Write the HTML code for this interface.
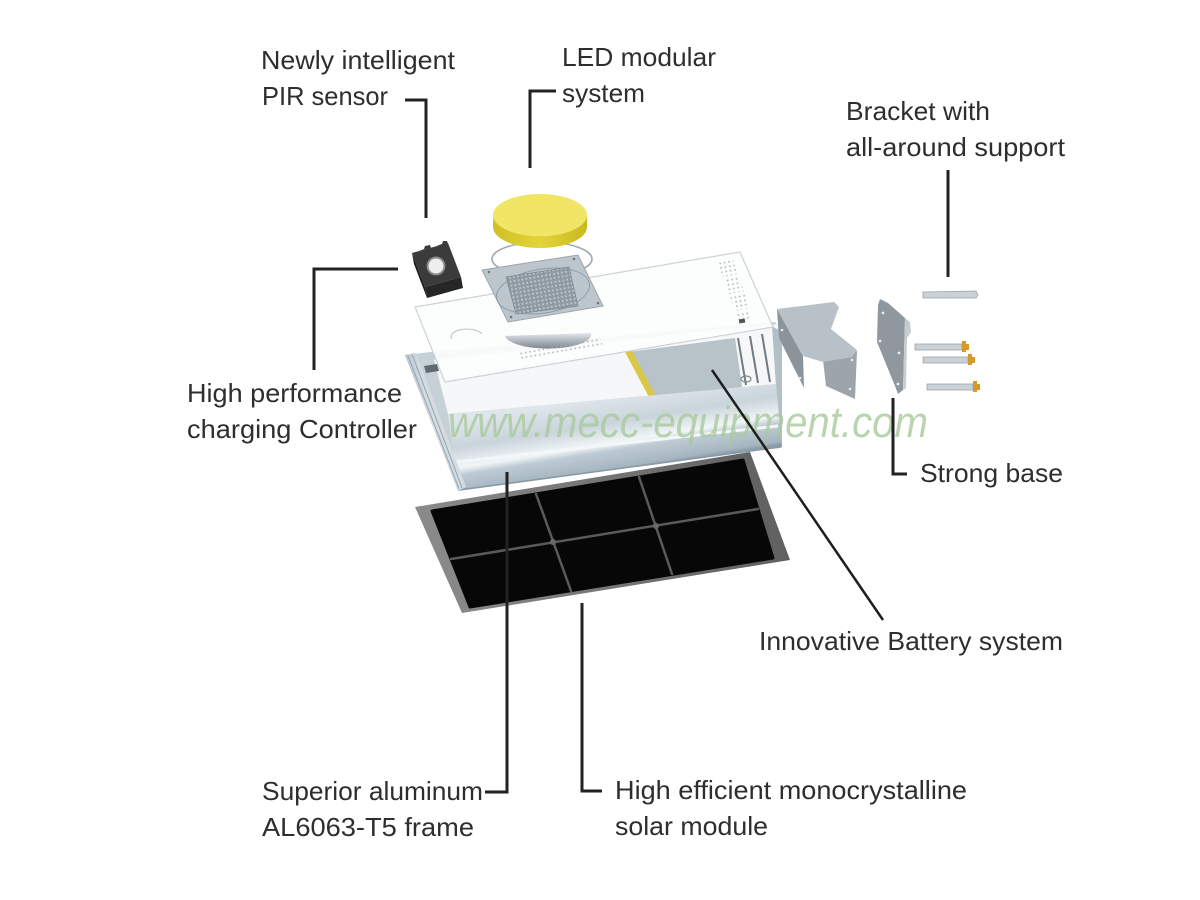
<!DOCTYPE html>
<html>
<head>
<meta charset="utf-8">
<style>
  html,body{margin:0;padding:0;background:#fff;}
  svg{display:block;}
  .lbl{font-family:"Liberation Sans",Arial,sans-serif;font-size:26px;fill:#2e2e2e;}
</style>
</head>
<body>
<svg width="1200" height="900" viewBox="0 0 1200 900" xmlns="http://www.w3.org/2000/svg">
  <defs>
    <linearGradient id="front" gradientUnits="userSpaceOnUse" x1="600" y1="398" x2="612" y2="472">
      <stop offset="0" stop-color="#dfe6eb"/>
      <stop offset="0.35" stop-color="#c9d4db"/>
      <stop offset="0.62" stop-color="#f1f5f7"/>
      <stop offset="0.72" stop-color="#bccad3"/>
      <stop offset="0.95" stop-color="#a6b6c1"/>
      <stop offset="1" stop-color="#8d9da8"/>
    </linearGradient>
    <linearGradient id="leftend" gradientUnits="userSpaceOnUse" x1="405" y1="420" x2="430" y2="415">
      <stop offset="0" stop-color="#8797a2"/>
      <stop offset="0.5" stop-color="#b9c5cd"/>
      <stop offset="1" stop-color="#d4dce2"/>
    </linearGradient>
    <linearGradient id="bowl" x1="0" y1="0" x2="0" y2="1">
      <stop offset="0" stop-color="#e3e7ea"/>
      <stop offset="1" stop-color="#7c8790"/>
    </linearGradient>
    <linearGradient id="frame" gradientUnits="userSpaceOnUse" x1="415" y1="560" x2="790" y2="500">
      <stop offset="0" stop-color="#8c8c8c"/>
      <stop offset="1" stop-color="#5f5f5f"/>
    </linearGradient>
    <linearGradient id="discside" x1="0" y1="0" x2="1" y2="0">
      <stop offset="0" stop-color="#cfc026"/>
      <stop offset="0.5" stop-color="#e3d43a"/>
      <stop offset="1" stop-color="#c9b91f"/>
    </linearGradient>
    <pattern id="dots" width="4.5" height="4.5" patternUnits="userSpaceOnUse" patternTransform="rotate(-10)">
      <circle cx="2" cy="2" r="0.9" fill="#a9b0b5"/>
    </pattern>
    <pattern id="leds" width="4" height="4" patternUnits="userSpaceOnUse" patternTransform="rotate(-10)">
      <rect width="4" height="4" fill="#8e99a1"/>
      <circle cx="2" cy="2" r="1.1" fill="#b9c3ca"/>
    </pattern>
  </defs>

  <rect width="1200" height="900" fill="#ffffff"/>

  <!-- ===== Solar panel ===== -->
  <polygon points="415,507 750,452 790,560 462,613" fill="url(#frame)"/>
  <polygon points="432,511 743,460 773,558 470,607" fill="#070707" stroke="#070707" stroke-width="3" stroke-linejoin="round"/>
  <g stroke="#5a5a5a" stroke-width="2.5" stroke-linecap="round">
    <line x1="536" y1="494" x2="571" y2="591"/>
    <line x1="639" y1="477" x2="672" y2="574"/>
    <line x1="451" y1="559" x2="758" y2="509"/>
  </g>
  <circle cx="553" cy="542" r="3" fill="#6a6a6a"/>
  <circle cx="656" cy="526" r="3" fill="#6a6a6a"/>

  <!-- ===== Housing ===== -->
  <!-- base body -->
  <polygon points="405,355 432,352 775,322 782,332 782,447 458,491" fill="#c3ced6"/>
  <!-- inner floor -->
  <polygon points="430,360 778,324 776,384 448,414" fill="#f5f7f8"/>
  <!-- battery -->
  <polygon points="628,352 735,338 742,387 652,398" fill="#b7c2c9"/>
  <polygon points="625,352 632,351 657,398 650,399" fill="#d9c845"/>
  <g stroke="#6f7a81" stroke-width="2">
    <line x1="738" y1="338" x2="746" y2="385"/>
    <line x1="750" y1="336" x2="758" y2="383"/>
    <line x1="762" y1="334" x2="770" y2="382"/>
  </g>
  <ellipse cx="746" cy="379" rx="5" ry="3" fill="none" stroke="#7d878d" stroke-width="1.2"/>
  <!-- right end -->
  <polygon points="772,326 782,332 782,447 776,446 776,386" fill="#b3bfc7"/>
  <!-- front bar -->
  <polygon points="448,414 776,384 782,447 458,491" fill="url(#front)"/>
  <line x1="456" y1="462" x2="778" y2="426" stroke="#f4f7f9" stroke-width="3"/>
  <line x1="458" y1="490" x2="781" y2="447" stroke="#8a9aa5" stroke-width="1.5"/>
  <!-- left wall -->
  <polygon points="405,355 432,352 448,414 458,491" fill="#c5d0d7"/>
  <polygon points="405,355 416,353 466,487 458,491" fill="url(#leftend)"/>
  <g stroke="#93a3ae" stroke-width="1">
    <line x1="408" y1="356" x2="459" y2="489"/>
    <line x1="412" y1="354" x2="462" y2="488"/>
  </g>
  <polygon points="424,366 437,364 439,371 426,373" fill="#5f6b73"/>

  <!-- ===== Lid (transparent plate) ===== -->
  <polygon points="415,307 740,252 773,327 445,382" fill="#fcfdfd" fill-opacity="0.93" stroke="#cdd2d6" stroke-width="1.2"/>
  <!-- lens bowl -->
  <path d="M505,336 A43,14 0 0,0 591,333 Z" fill="url(#bowl)"/>
  <!-- dots -->
  <polygon points="517,352 600,338 603,346 520,360" fill="url(#dots)"/>
  <polygon points="718,263 733,260 738,274 723,277" fill="url(#dots)"/>
  <polygon points="724,280 739,277 744,291 729,294" fill="url(#dots)"/>
  <polygon points="730,297 745,294 750,308 735,311" fill="url(#dots)"/>
  <polygon points="736,313 749,310 752,318 739,321" fill="url(#dots)"/>
  <rect x="739" y="319" width="6" height="4" fill="#555" transform="rotate(-10 742 321)"/>
  <path d="M452,339 A15,7 0 0,1 482,334" fill="none" stroke="#c4c9cc" stroke-width="1.2"/>

  <!-- ===== LED module ===== -->
  <ellipse cx="542" cy="259" rx="50" ry="17" fill="none" stroke="#9eabb3" stroke-width="1.6"/>
  <polygon points="482,270 578,255 603,306 508,322" fill="#bcc6cc" stroke="#9ba6ad" stroke-width="1"/>
  <ellipse cx="543" cy="291" rx="47" ry="22" fill="none" stroke="#8b9cab" stroke-width="1" transform="rotate(-9 543 291)"/>
  <polygon points="506,277 569,267 578,306 516,314" fill="url(#leds)" stroke="#7f8b93" stroke-width="0.8"/>
  <circle cx="489" cy="272" r="1.3" fill="#6f7a81"/>
  <circle cx="574" cy="259" r="1.3" fill="#6f7a81"/>
  <circle cx="598" cy="303" r="1.3" fill="#6f7a81"/>
  <circle cx="511" cy="317" r="1.3" fill="#6f7a81"/>

  <!-- yellow disc -->
  <path d="M493,215 A47,21 0 0,0 587,215 L587,227 A47,21 0 0,1 493,227 Z" fill="url(#discside)"/>
  <ellipse cx="540" cy="215" rx="47" ry="21" fill="#f1e566"/>

  <!-- PIR sensor -->
  <polygon points="412,253 425,287 427,298 414,264" fill="#1d1d1d"/>
  <polygon points="425,287 461,277 463,288 427,298" fill="#262626"/>
  <polygon points="412,253 448,243 461,277 425,287" fill="#3b3b3b"/>
  <polygon points="418,251 424,249 425,246 430,245 431,248" fill="#3b3b3b"/>
  <polygon points="436,246 442,244 443,241 447,241 448,244" fill="#3b3b3b"/>
  <circle cx="436" cy="266" r="9.5" fill="#8a8a8a"/>
  <circle cx="436" cy="266" r="7.5" fill="#eeeeee"/>

  <!-- ===== Brackets ===== -->
  <polygon points="777,309 803,356 804,388 779,338" fill="#8a949a"/>
  <polygon points="823,360 857,351 855,399 826,386" fill="#9ca5ab"/>
  <polygon points="777,309 834,302 839,307 831,329 857,350 852,357 823,362 803,356" fill="#b8c1c7"/>
  <circle cx="782" cy="330" r="1.3" fill="#e8ecee"/>
  <circle cx="800" cy="378" r="1.3" fill="#e8ecee"/>
  <circle cx="852" cy="360" r="1.3" fill="#e8ecee"/>
  <circle cx="850" cy="389" r="1.3" fill="#e8ecee"/>

  <polygon points="880,299 888,303 905,318 903,390 898,394 895,386 877,342 878,305" fill="#8f989e"/>
  <polygon points="905,318 910,322 911,332 907,338 906,388 903,390" fill="#c6cdd2"/>
  <circle cx="883" cy="313" r="1.4" fill="#e8ecee"/>
  <circle cx="880" cy="341" r="1.4" fill="#e8ecee"/>
  <circle cx="899" cy="353" r="1.4" fill="#e8ecee"/>
  <circle cx="898" cy="384" r="1.4" fill="#e8ecee"/>

  <!-- bolts -->
  <g stroke="#9aa4ab" stroke-width="0.8" fill="#cbd2d7">
    <polygon points="923,292 976,291 978,295 976,298 923,298"/>
    <polygon points="915,344 962,344 962,350 915,350"/>
    <polygon points="923,357 968,357 968,363 923,363"/>
    <polygon points="927,384 973,384 973,390 927,390"/>
  </g>
  <g fill="#d69a2a">
    <rect x="962" y="341" width="4" height="11"/>
    <rect x="966" y="344" width="3" height="6"/>
    <rect x="968" y="354" width="4" height="11"/>
    <rect x="972" y="357" width="3" height="6"/>
    <rect x="973" y="381" width="4" height="11"/>
    <rect x="977" y="384" width="3" height="6"/>
  </g>

  <!-- ===== Watermark ===== -->
  <text x="448" y="437" font-family="Liberation Sans, Arial, sans-serif" font-style="italic" font-size="44" textLength="480" lengthAdjust="spacingAndGlyphs" fill="#a9c99c" fill-opacity="0.8">www.mecc-equipment.com</text>

  <!-- ===== Connector lines ===== -->
  <g fill="none" stroke="#222" stroke-width="3" stroke-linejoin="miter">
    <polyline points="405,100 426,100 426,218"/>
    <polyline points="556,91 530,91 530,168"/>
    <line x1="948" y1="170" x2="948" y2="277"/>
    <polyline points="398,269 314,269 314,370"/>
    <polyline points="893,398 893,474 907,474"/>
    <polyline points="485,792 507,792 507,472"/>
    <polyline points="582,603 582,791 602,791"/>
  </g>
  <line x1="712" y1="370" x2="883" y2="620" stroke="#1e1e1e" stroke-width="2.5"/>

  <!-- ===== Labels ===== -->
  <text class="lbl" x="261" y="69" textLength="194" lengthAdjust="spacingAndGlyphs">Newly intelligent</text>
  <text class="lbl" x="262" y="105" textLength="126" lengthAdjust="spacingAndGlyphs">PIR sensor</text>

  <text class="lbl" x="562" y="66" textLength="154" lengthAdjust="spacingAndGlyphs">LED modular</text>
  <text class="lbl" x="562" y="102" textLength="83" lengthAdjust="spacingAndGlyphs">system</text>

  <text class="lbl" x="846" y="120" textLength="144" lengthAdjust="spacingAndGlyphs">Bracket with</text>
  <text class="lbl" x="846" y="156" textLength="219" lengthAdjust="spacingAndGlyphs">all-around support</text>

  <text class="lbl" x="187" y="402" textLength="215" lengthAdjust="spacingAndGlyphs">High performance</text>
  <text class="lbl" x="187" y="438" textLength="230" lengthAdjust="spacingAndGlyphs">charging Controller</text>

  <text class="lbl" x="920" y="482" textLength="143" lengthAdjust="spacingAndGlyphs">Strong base</text>

  <text class="lbl" x="759" y="650" textLength="304" lengthAdjust="spacingAndGlyphs">Innovative Battery system</text>

  <text class="lbl" x="262" y="800" textLength="221" lengthAdjust="spacingAndGlyphs">Superior aluminum</text>
  <text class="lbl" x="262" y="836" textLength="212" lengthAdjust="spacingAndGlyphs">AL6063-T5 frame</text>

  <text class="lbl" x="615" y="799" textLength="352" lengthAdjust="spacingAndGlyphs">High efficient monocrystalline</text>
  <text class="lbl" x="615" y="835" textLength="153" lengthAdjust="spacingAndGlyphs">solar module</text>
</svg>
</body>
</html>
